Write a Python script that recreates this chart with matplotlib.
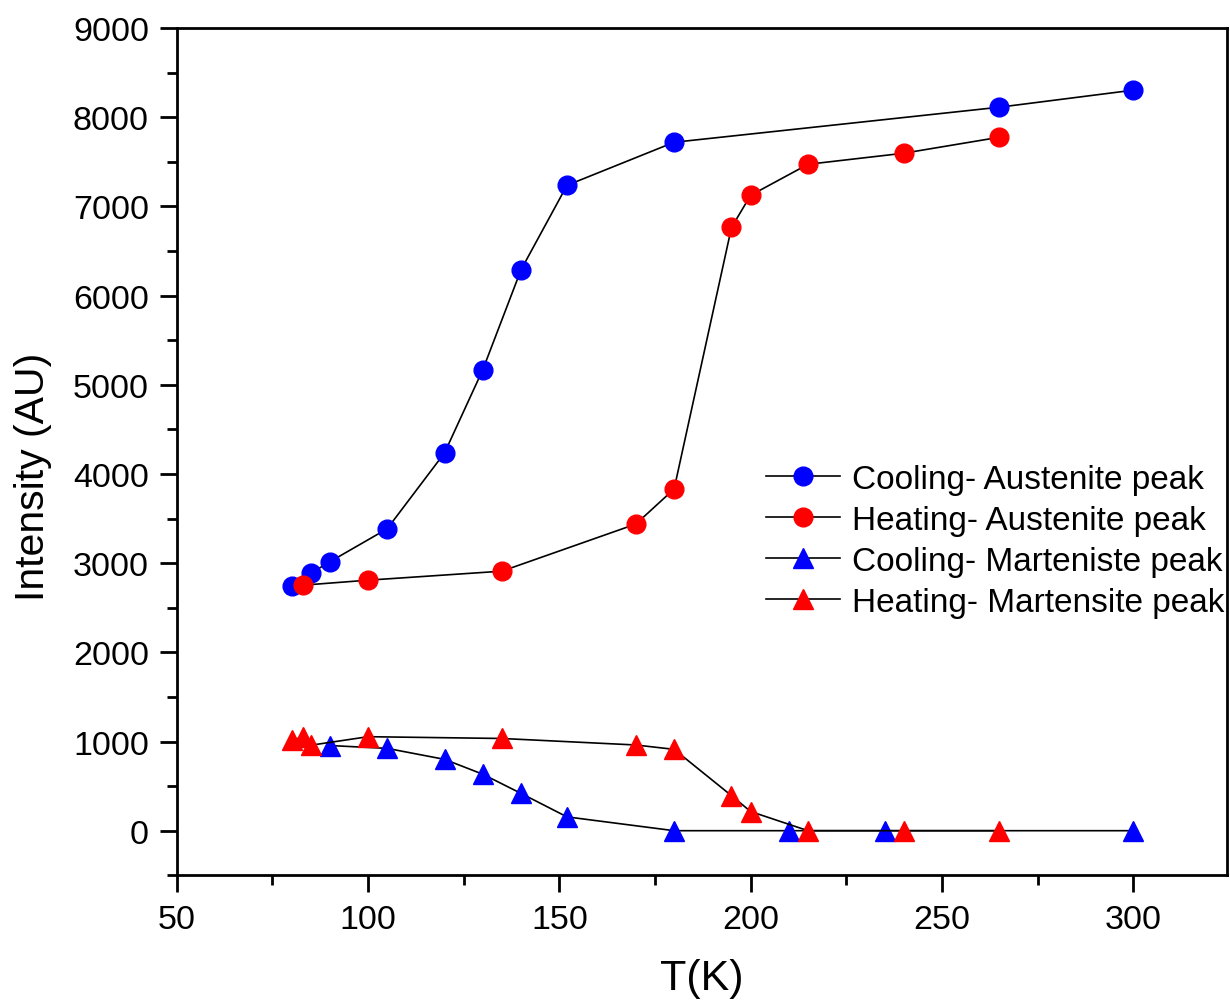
import matplotlib
matplotlib.use("Agg")
import matplotlib.pyplot as plt
from matplotlib.ticker import MultipleLocator

plt.rcParams['font.family'] = ['Liberation Sans', 'DejaVu Sans']

# Cooling - Austenite peak
cool_aus_T = [80, 85, 90, 105, 120, 130, 140, 152, 180, 265, 300]
cool_aus_I = [2745, 2885, 3015, 3385, 4236, 5169, 6290, 7236, 7719, 8112, 8303]

# Heating - Austenite peak
heat_aus_T = [83, 100, 135, 170, 180, 195, 200, 215, 240, 265]
heat_aus_I = [2753, 2809, 2910, 3438, 3831, 6764, 7124, 7472, 7596, 7775]

# Cooling - Martensite peak
cool_mar_T = [90, 105, 120, 130, 140, 152, 180, 210, 235, 300]
cool_mar_I = [955, 923, 800, 633, 418, 155, 0, 0, 0, 0]

# Heating - Martensite peak
heat_mar_T = [80, 83, 85, 100, 135, 170, 180, 195, 200, 215, 240, 265]
heat_mar_I = [1017, 1048, 958, 1054, 1034, 961, 912, 393, 215, 0, 0, 0]

labels = ["Cooling- Austenite peak", "Heating- Austenite peak",
          "Cooling- Marteniste peak", "Heating- Martensite peak"]

fig = plt.figure(figsize=(12.3, 10.04), dpi=100)
ax = fig.add_axes([0.1437, 0.1272, 0.9975 - 0.1437, 0.9711 - 0.1272])

lw = 1.2
ax.plot(cool_aus_T, cool_aus_I, '-o', color='black', lw=lw, mfc='#0000ff', mec='#0000ff',
        ms=13.5, label=labels[0])
ax.plot(heat_aus_T, heat_aus_I, '-o', color='black', lw=lw, mfc='#ff0000', mec='#ff0000',
        ms=13.5, label=labels[1])
ax.plot(cool_mar_T, cool_mar_I, '-^', color='black', lw=lw, mfc='#0000ff', mec='#0000ff',
        ms=14.5, label=labels[2])
ax.plot(heat_mar_T, heat_mar_I, '-^', color='black', lw=lw, mfc='#ff0000', mec='#ff0000',
        ms=14.5, label=labels[3])

ax.set_xlim(50, 324.5)
ax.set_ylim(-500, 9000)
ax.xaxis.set_major_locator(MultipleLocator(50))
ax.xaxis.set_minor_locator(MultipleLocator(25))
ax.yaxis.set_major_locator(MultipleLocator(1000))
ax.yaxis.set_minor_locator(MultipleLocator(500))

for s in ax.spines.values():
    s.set_linewidth(2.0)
ax.tick_params(which='major', direction='out', length=12, width=2.0, labelsize=24.5, pad=8)
ax.tick_params(which='minor', direction='out', length=7, width=2.0)
ax.tick_params(axis='x', which='major', pad=9)
ax.tick_params(top=False, right=False)

ax.set_xlabel("T(K)", fontsize=31, labelpad=16)
ax.set_ylabel("Intensity (AU)", fontsize=29.5)
ax.yaxis.set_label_coords(-0.1188, 0.4715)

leg = ax.legend(loc='upper left', bbox_to_anchor=(0.5486, 0.5016), frameon=False,
                fontsize=24, handlelength=2.2, handletextpad=0.36, labelspacing=0.3,
                numpoints=1, borderaxespad=0)

fig.savefig("out.png", dpi=100)
